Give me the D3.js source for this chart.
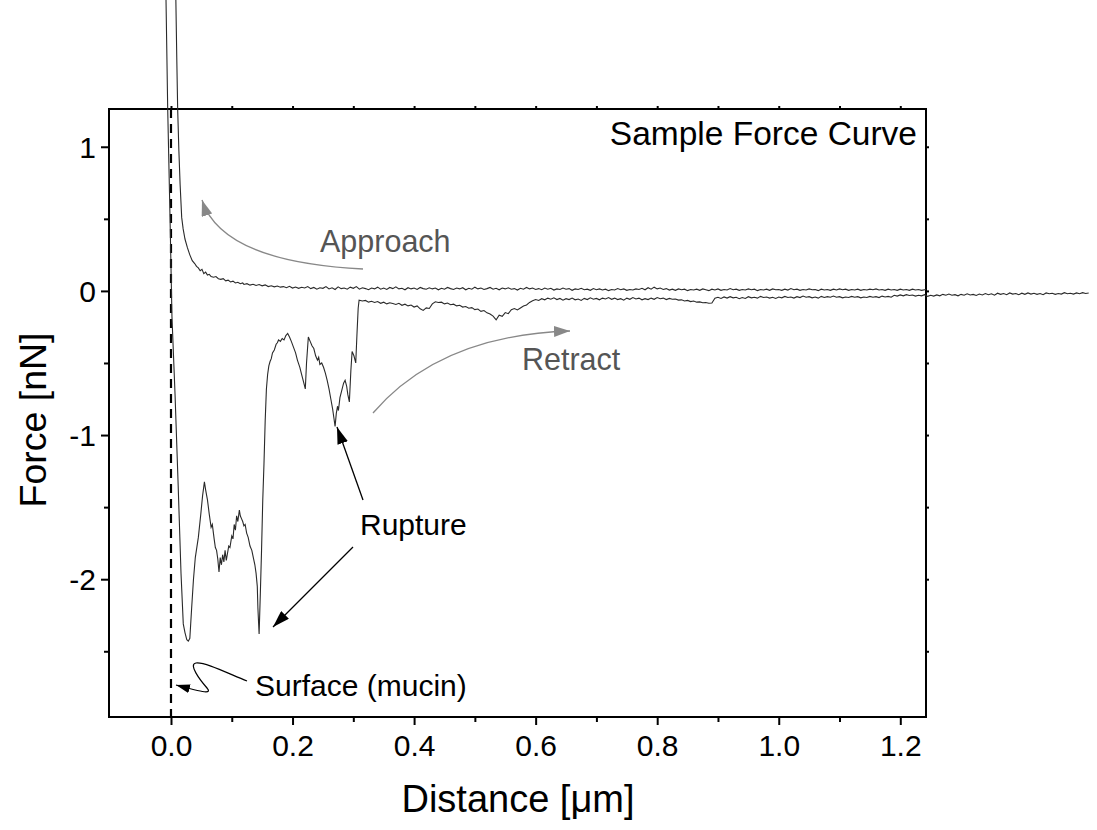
<!DOCTYPE html>
<html><head><meta charset="utf-8">
<script src="https://cdn.jsdelivr.net/npm/d3@7"></script>
<style>body{margin:0;background:#fff}svg{display:block}text{font-family:"Liberation Sans",Arial,sans-serif}</style>
</head><body><svg id="c" width="1097" height="830"></svg>
<script>
const xTicks=[0,0.2,0.4,0.6,0.8,1.0,1.2];
const xMinor=[0.1,0.3,0.5,0.7,0.9,1.1];
const yTicks=[1,0,-1,-2];
const yMinor=[0.5,-0.5,-1.5,-2.5];
const xDomain=[-0.102,1.2423];
const yDomain=[1.262,-2.956];
const approach=[[0.006,2.6],[0.008,2.02],[0.0095,1.62],[0.011,1.26],[0.013,0.97],[0.015,0.74],[0.0176,0.51],[0.02,0.43],[0.023,0.36],[0.027,0.3],[0.031,0.25],[0.035,0.21],[0.039,0.19],[0.042,0.17],[0.045,0.16],[0.048,0.14],[0.051,0.15],[0.054,0.12],[0.057,0.13],[0.06,0.11],[0.063,0.115],[0.066,0.1],[0.07,0.095],[0.074,0.1],[0.078,0.085],[0.082,0.08],[0.086,0.085],[0.09,0.07],[0.094,0.075],[0.098,0.062],[0.102,0.068],[0.106,0.055],[0.11,0.06],[0.114,0.05],[0.118,0.055],
[0.12,0.045],[0.125,0.05],[0.13,0.04],[0.135,0.046],[0.14,0.038],[0.145,0.044],[0.15,0.035],[0.155,0.042],[0.16,0.03],[0.165,0.036],[0.17,0.028],[0.175,0.034],[0.18,0.026],[0.185,0.03],[0.19,0.022],[0.195,0.032],[0.2,0.02],[0.205,0.027],[0.21,0.018],[0.215,0.025],[0.22,0.02],[0.225,0.03],[0.23,0.016],[0.235,0.024],[0.24,0.012],[0.245,0.022],[0.25,0.018],[0.255,0.03],[0.26,0.014],[0.265,0.022],[0.27,0.01],[0.275,0.028],[0.28,0.016],[0.285,0.02],[0.29,0.012],[0.295,0.026],[0.3,0.018],[0.305,0.03],[0.31,0.012],[0.315,0.022],[0.32,0.016],[0.325,0.008],[0.33,0.02],[0.335,0.014],[0.34,0.026],[0.345,0.012],[0.35,0.02],[0.355,0.01],[0.36,0.024],[0.365,0.016],[0.37,0.028],[0.375,0.014],[0.38,0.018],[0.385,0.008],[0.39,0.022],[0.395,0.014],[0.4,0.02],[0.405,0.01],[0.41,0.024],[0.415,0.016],[0.42,0.012],[0.425,0.022],[0.43,0.014],[0.435,0.02],[0.44,0.008],[0.445,0.018],[0.45,0.012],[0.455,0.024],[0.46,0.016],[0.465,0.01],[0.47,0.02],[0.475,0.014],[0.48,0.022],[0.485,0.008],[0.49,0.018],[0.495,0.012],[0.5,0.026],[0.505,0.014],[0.51,0.02],[0.515,0.01],[0.52,0.016],[0.525,0.024],[0.53,0.012],[0.535,0.018],[0.54,0.008],[0.545,0.02],[0.55,0.014],[0.555,0.022],[0.56,0.012],[0.565,0.016],[0.57,0.006],[0.575,0.018],[0.58,0.012],[0.585,0.024],[0.59,0.014],[0.595,0.02],[0.6,0.01],[0.605,0.016],[0.61,0.008],[0.615,0.02],[0.62,0.012],[0.625,0.018],[0.63,0.006],[0.635,0.014],[0.64,0.01],[0.645,0.02],[0.65,0.012],[0.655,0.016],[0.66,0.004],[0.665,0.014],[0.67,0.01],[0.675,0.018],[0.68,0.008],[0.685,0.012],[0.69,0.004],[0.695,0.016],[0.7,0.008],[0.705,0.014],[0.71,0.006],[0.715,0.012],[0.72,0.002],[0.725,0.01],[0.73,0.006],[0.735,0.016],[0.74,0.008],[0.745,0.014],[0.75,0.004],[0.755,0.01],[0.76,0.006],[0.765,0.014],[0.77,0.01],[0.775,0.018],[0.78,0.008],[0.785,0.022],[0.79,0.012],[0.795,0.026],[0.8,0.014],[0.805,0.02],[0.81,0.01],[0.815,0.016],[0.82,0.006],[0.825,0.012],[0.83,0.004],[0.835,0.014],[0.84,0.008],[0.845,0.012],[0.85,0.002],[0.855,0.01],[0.86,0.006],[0.865,0.012],[0.87,0.004],[0.875,0.014],[0.88,0.008],[0.885,0.002],[0.89,0.012],[0.895,0.006],[0.9,0.014],[0.905,0.004],[0.91,0.01],[0.915,0.006],[0.92,0.016],[0.925,0.008],[0.93,0.012],[0.935,0.004],[0.94,0.01],[0.945,0.006],[0.95,0.014],[0.955,0.008],[0.96,0.012],[0.965,0.002],[0.97,0.01],[0.975,0.006],[0.98,0.012],[0.985,0.004],[0.99,0.014],[0.995,0.008],[1.0,0.01],[1.005,0.004],[1.01,0.012],[1.015,0.006],[1.02,0.016],[1.025,0.008],[1.03,0.012],[1.035,0.004],[1.04,0.01],[1.045,0.006],[1.05,0.014],[1.055,0.008],[1.06,0.01],[1.065,0.002],[1.07,0.012],[1.075,0.006],[1.08,0.01],[1.085,0.004],[1.09,0.012],[1.095,0.006],[1.1,0.014],[1.105,0.008],[1.11,0.012],[1.115,0.004],[1.12,0.01],[1.125,0.006],[1.13,0.012],[1.135,0.004],[1.14,0.01],[1.145,0.006],[1.15,0.012],[1.155,0.008],[1.16,0.014],[1.165,0.006],[1.17,0.01],[1.175,0.004],[1.18,0.012],[1.185,0.006],[1.19,0.01],[1.195,0.004],[1.2,0.012],[1.205,0.006],[1.21,0.01],[1.215,0.004],[1.22,0.012],[1.225,0.006],[1.23,0.01],[1.235,0.004],[1.2423,0.01]];
const retract=[[-0.0095,2.3],[-0.0082,2.02],[-0.0054,1.262],[-0.0016,0.512],[0.0016,-0.18],[0.0066,-0.71],[0.0115,-1.31],[0.0165,-1.96],[0.0202,-2.31],[0.023,-2.37],[0.026,-2.42],[0.0285,-2.43],[0.031,-2.41],[0.034,-2.2],[0.037,-2.0],[0.04,-1.85],[0.045,-1.71],[0.049,-1.55],[0.052,-1.42],[0.055,-1.325],[0.057,-1.38],[0.06,-1.45],[0.063,-1.55],[0.066,-1.64],[0.068,-1.62],[0.071,-1.72],[0.073,-1.78],[0.075,-1.80],[0.077,-1.86],[0.079,-1.95],[0.081,-1.85],[0.083,-1.90],[0.085,-1.83],[0.087,-1.88],[0.089,-1.80],[0.091,-1.87],[0.093,-1.82],[0.095,-1.77],[0.097,-1.78],[0.1,-1.70],[0.102,-1.72],[0.104,-1.62],[0.106,-1.66],[0.108,-1.56],[0.11,-1.60],[0.1125,-1.52],[0.114,-1.56],[0.116,-1.58],[0.118,-1.60],[0.12,-1.63],[0.122,-1.62],[0.1245,-1.68],[0.127,-1.71],[0.13,-1.77],[0.133,-1.80],[0.136,-1.86],[0.138,-1.90],[0.14,-1.96],[0.142,-2.05],[0.143,-2.2],[0.145,-2.38],[0.147,-2.1],[0.149,-1.8],[0.151,-1.45],[0.153,-1.2],[0.155,-0.9],[0.157,-0.68],[0.159,-0.58],[0.161,-0.52],[0.163,-0.49],[0.165,-0.47],[0.167,-0.43],[0.17,-0.41],[0.173,-0.37],[0.175,-0.36],[0.177,-0.34],[0.18,-0.35],[0.183,-0.33],[0.186,-0.34],[0.189,-0.31],[0.192,-0.295],[0.195,-0.32],[0.198,-0.35],[0.2015,-0.39],[0.205,-0.43],[0.208,-0.48],[0.212,-0.53],[0.215,-0.58],[0.218,-0.63],[0.221,-0.68],[0.223,-0.5],[0.226,-0.32],[0.229,-0.35],[0.232,-0.38],[0.235,-0.40],[0.238,-0.45],[0.241,-0.48],[0.243,-0.46],[0.245,-0.51],[0.248,-0.50],[0.251,-0.53],[0.254,-0.57],[0.257,-0.62],[0.26,-0.68],[0.263,-0.75],[0.266,-0.82],[0.268,-0.88],[0.27,-0.94],[0.272,-0.85],[0.274,-0.80],[0.2755,-0.83],[0.278,-0.74],[0.281,-0.69],[0.284,-0.64],[0.2865,-0.62],[0.289,-0.66],[0.291,-0.72],[0.2935,-0.77],[0.296,-0.55],[0.298,-0.42],[0.301,-0.45],[0.304,-0.50],[0.306,-0.3],[0.308,-0.12],[0.3095,-0.064],
[0.315,-0.07],[0.32,-0.066],[0.325,-0.078],[0.33,-0.072],[0.335,-0.08],[0.34,-0.074],[0.345,-0.086],[0.35,-0.078],[0.355,-0.09],[0.36,-0.082],[0.365,-0.088],[0.37,-0.094],[0.375,-0.086],[0.38,-0.1],[0.385,-0.092],[0.39,-0.104],[0.395,-0.098],[0.4,-0.112],[0.405,-0.104],[0.41,-0.124],[0.415,-0.135],[0.42,-0.118],[0.425,-0.122],[0.43,-0.09],[0.435,-0.075],[0.44,-0.08],[0.445,-0.078],[0.45,-0.09],[0.455,-0.084],[0.46,-0.096],[0.465,-0.092],[0.47,-0.104],[0.475,-0.1],[0.48,-0.112],[0.485,-0.108],[0.49,-0.12],[0.495,-0.116],[0.5,-0.13],[0.505,-0.126],[0.51,-0.142],[0.515,-0.136],[0.52,-0.152],[0.525,-0.16],[0.53,-0.175],[0.535,-0.2],[0.54,-0.168],[0.545,-0.176],[0.55,-0.15],[0.555,-0.158],[0.56,-0.13],[0.565,-0.122],[0.57,-0.132],[0.575,-0.118],[0.58,-0.105],[0.585,-0.098],[0.59,-0.08],[0.595,-0.069],[0.6,-0.06],[0.605,-0.066],[0.61,-0.054],[0.615,-0.062],[0.62,-0.05],[0.625,-0.058],[0.63,-0.048],[0.635,-0.06],[0.64,-0.052],[0.645,-0.064],[0.65,-0.054],[0.655,-0.06],[0.66,-0.05],[0.665,-0.062],[0.67,-0.056],[0.675,-0.066],[0.68,-0.052],[0.685,-0.06],[0.69,-0.048],[0.695,-0.058],[0.7,-0.052],[0.705,-0.062],[0.71,-0.05],[0.715,-0.056],[0.72,-0.046],[0.725,-0.058],[0.73,-0.05],[0.735,-0.06],[0.74,-0.054],[0.745,-0.064],[0.75,-0.05],[0.755,-0.058],[0.76,-0.046],[0.765,-0.056],[0.77,-0.05],[0.775,-0.062],[0.78,-0.054],[0.785,-0.06],[0.79,-0.05],[0.795,-0.058],[0.8,-0.046],[0.805,-0.054],[0.81,-0.05],[0.815,-0.06],[0.82,-0.052],[0.825,-0.058],[0.83,-0.056],[0.835,-0.064],[0.84,-0.062],[0.845,-0.07],[0.85,-0.066],[0.855,-0.074],[0.86,-0.07],[0.865,-0.078],[0.87,-0.076],[0.875,-0.082],[0.88,-0.08],[0.885,-0.086],[0.89,-0.084],[0.895,-0.05],[0.9,-0.044],[0.905,-0.052],[0.91,-0.042],[0.915,-0.05],[0.92,-0.04],[0.925,-0.048],[0.93,-0.044],[0.935,-0.054],[0.94,-0.046],[0.945,-0.052],[0.95,-0.04],[0.955,-0.048],[0.96,-0.044],[0.965,-0.05],[0.97,-0.038],[0.975,-0.046],[0.98,-0.042],[0.985,-0.05],[0.99,-0.044],[0.995,-0.052],[1.0,-0.042],[1.005,-0.048],[1.01,-0.038],[1.015,-0.046],[1.02,-0.042],[1.025,-0.05],[1.03,-0.04],[1.035,-0.046],[1.04,-0.036],[1.045,-0.044],[1.05,-0.04],[1.055,-0.048],[1.06,-0.042],[1.065,-0.05],[1.07,-0.038],[1.075,-0.046],[1.08,-0.04],[1.085,-0.044],[1.09,-0.036],[1.095,-0.044],[1.1,-0.04],[1.105,-0.048],[1.11,-0.042],[1.115,-0.046],[1.12,-0.038],[1.125,-0.044],[1.13,-0.04],[1.135,-0.048],[1.14,-0.042],[1.145,-0.046],[1.15,-0.038],[1.155,-0.044],[1.16,-0.04],[1.165,-0.046],[1.17,-0.036],[1.175,-0.042],[1.18,-0.038],[1.185,-0.044],[1.19,-0.03],[1.195,-0.036],[1.2,-0.028],[1.205,-0.034],[1.21,-0.026],[1.215,-0.032],[1.22,-0.028],[1.225,-0.036],[1.23,-0.03],[1.235,-0.034],[1.24,-0.026],[1.245,-0.038],[1.25,-0.03],[1.255,-0.036],[1.26,-0.028],[1.265,-0.034],[1.27,-0.024],[1.275,-0.03],[1.28,-0.022],[1.285,-0.03],[1.29,-0.026],[1.295,-0.034],[1.3,-0.024],[1.305,-0.03],[1.31,-0.02],[1.315,-0.028],[1.32,-0.024],[1.325,-0.032],[1.33,-0.022],[1.335,-0.028],[1.34,-0.018],[1.345,-0.026],[1.35,-0.02],[1.355,-0.03],[1.36,-0.016],[1.365,-0.024],[1.37,-0.018],[1.375,-0.026],[1.38,-0.014],[1.385,-0.022],[1.39,-0.018],[1.395,-0.026],[1.4,-0.016],[1.405,-0.024],[1.41,-0.014],[1.415,-0.022],[1.42,-0.016],[1.425,-0.024],[1.43,-0.018],[1.435,-0.026],[1.44,-0.014],[1.445,-0.02],[1.45,-0.016],[1.455,-0.024],[1.46,-0.018],[1.465,-0.022],[1.47,-0.012],[1.475,-0.02],[1.48,-0.016],[1.485,-0.022],[1.49,-0.014],[1.495,-0.02],[1.5,-0.012],[1.505,-0.018],[1.51,-0.014]];
const title="Sample Force Curve";
const xLabel="Distance [μm]";
const yLabel="Force [nN]";

const svg=d3.select("#c");
const L=109,T=109,W=817,H=608;
const x=d3.scaleLinear().domain(xDomain).range([L,L+W]);
const y=d3.scaleLinear().domain(yDomain).range([T,T+H]);

const defs=svg.append("defs");
function marker(id,color,len,wid){
  defs.append("marker").attr("id",id).attr("viewBox",`0 0 ${len} ${wid}`)
   .attr("refX",len).attr("refY",wid/2).attr("markerWidth",len).attr("markerHeight",wid)
   .attr("markerUnits","userSpaceOnUse").attr("orient","auto")
   .append("path").attr("d",`M0,0L${len},${wid/2}L0,${wid}Z`).attr("fill",color);
}
marker("ag","#888",16,11);
marker("ab","#000",17,11);
marker("as","#000",14,9);

const fmtX=d=>d.toFixed(1);
const fmtY=d=>String(d);
const gx=svg.append("g").attr("transform",`translate(0,${T+H})`)
 .call(d3.axisBottom(x).tickValues(xTicks).tickSize(8).tickPadding(3).tickFormat(fmtX));
svg.append("g").attr("transform",`translate(0,${T+H})`).call(d3.axisBottom(x).tickValues(xMinor).tickSize(5).tickFormat(""));
svg.append("g").attr("transform",`translate(0,${T})`).call(d3.axisTop(x).tickValues(xTicks.concat(xMinor)).tickSize(3).tickFormat(""));
const gy=svg.append("g").attr("transform",`translate(${L},0)`)
 .call(d3.axisLeft(y).tickValues(yTicks).tickSize(8).tickFormat(fmtY));
svg.append("g").attr("transform",`translate(${L},0)`).call(d3.axisLeft(y).tickValues(yMinor).tickSize(5).tickFormat(""));
svg.append("g").attr("transform",`translate(${L+W},0)`).call(d3.axisRight(y).tickValues(yTicks.concat(yMinor)).tickSize(3).tickFormat(""));
svg.selectAll(".domain").remove();
svg.selectAll(".tick line").attr("stroke","#000").attr("stroke-width",2);
gx.selectAll("text").attr("font-size",30).attr("dy","0.93em").attr("fill","#000").attr("font-family","Liberation Sans, Arial, sans-serif");
gy.selectAll("text").attr("font-size",30).attr("x",-13).attr("dy","0.35em").attr("fill","#000").attr("font-family","Liberation Sans, Arial, sans-serif");

svg.append("rect").attr("x",L).attr("y",T).attr("width",W).attr("height",H)
 .attr("fill","none").attr("stroke","#000").attr("stroke-width",2);

svg.append("line").attr("x1",x(0)).attr("x2",x(0)).attr("y1",y(yDomain[0])).attr("y2",y(yDomain[1]))
 .attr("stroke","#000").attr("stroke-width",2.2).attr("stroke-dasharray","9,6");

const line=d3.line().x(d=>x(d[0])).y(d=>y(d[1]));
svg.append("path").datum(approach).attr("d",line).attr("fill","none").attr("stroke","#2a2a2a").attr("stroke-width",1.1);
svg.append("path").datum(retract).attr("d",line).attr("fill","none").attr("stroke","#2a2a2a").attr("stroke-width",1.1);

svg.append("text").attr("x",917).attr("y",145).attr("text-anchor","end").attr("font-size",33.5).text(title);
svg.append("text").attr("x",320).attr("y",252).attr("font-size",30.5).attr("fill","#555").text("Approach");
svg.append("text").attr("x",522).attr("y",370).attr("font-size",30.5).attr("fill","#555").text("Retract");
svg.append("text").attr("x",360).attr("y",535).attr("font-size",30).text("Rupture");
svg.append("text").attr("x",255).attr("y",696).attr("font-size",30).text("Surface (mucin)");

svg.append("path").attr("d","M363,269Q222,262 202,200").attr("fill","none").attr("stroke","#888").attr("stroke-width",1.3).attr("marker-end","url(#ag)");
svg.append("path").attr("d","M373,413Q440,335 570,331").attr("fill","none").attr("stroke","#888").attr("stroke-width",1.3).attr("marker-end","url(#ag)");
svg.append("path").attr("d","M363,500L337,427").attr("fill","none").attr("stroke","#000").attr("stroke-width",1.3).attr("marker-end","url(#ab)");
svg.append("path").attr("d","M353,547L273,627").attr("fill","none").attr("stroke","#000").attr("stroke-width",1.3).attr("marker-end","url(#ab)");
svg.append("path").attr("d","M247,681C225,672 205,662 196,663C188,664 200,680 207,688C212,694 205,693 176,685").attr("fill","none").attr("stroke","#000").attr("stroke-width",1.2).attr("marker-end","url(#as)");

svg.append("text").attr("x",518).attr("y",812).attr("text-anchor","middle").attr("font-size",38).text(xLabel);
svg.append("text").attr("transform","translate(46,420) rotate(-90)").attr("text-anchor","middle").attr("font-size",37.5).text(yLabel);
</script></body></html>
